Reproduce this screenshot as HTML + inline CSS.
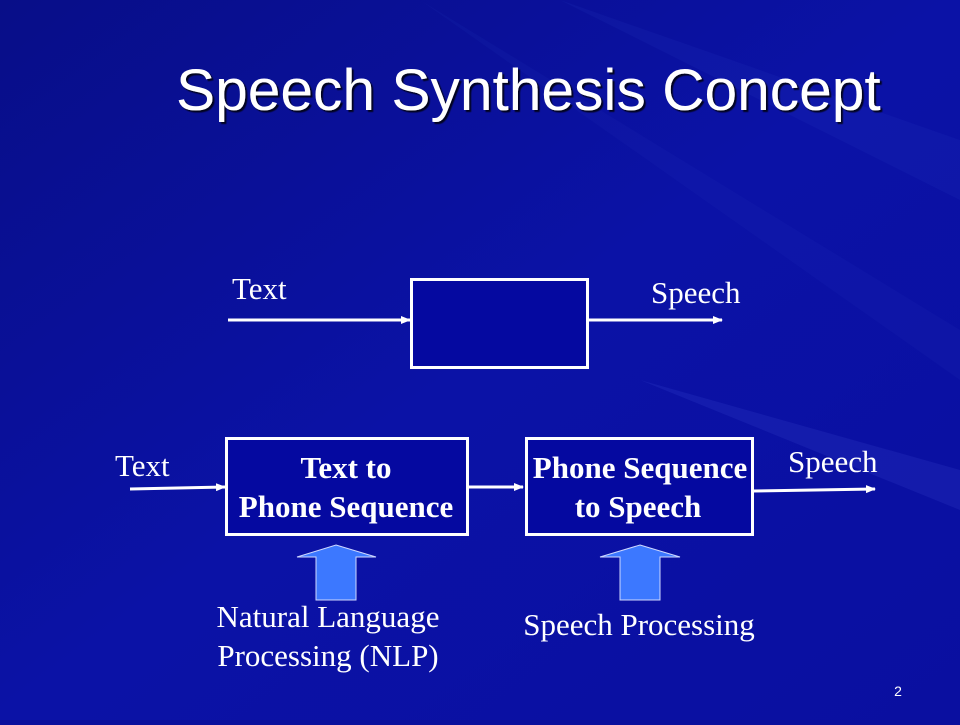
<!DOCTYPE html>
<html><head><style>
html,body{margin:0;padding:0}
body{width:960px;height:720px;overflow:hidden;background:#0a0f9c}
</style></head><body>
<svg width="960" height="720" xmlns="http://www.w3.org/2000/svg">
<defs>
<linearGradient id="bg" x1="0" y1="0" x2="1" y2="1">
<stop offset="0" stop-color="#080e88"/>
<stop offset="0.5" stop-color="#0b12a6"/>
<stop offset="1" stop-color="#0a0fa0"/>
</linearGradient>
<marker id="ah" markerWidth="10" markerHeight="8" refX="9" refY="4" orient="auto" markerUnits="userSpaceOnUse">
<path d="M0,0 L10,4 L0,8 z" fill="#fff"/>
</marker>
<filter id="sh"><feDropShadow dx="2" dy="2" stdDeviation="0.5" flood-color="#000" flood-opacity="0.8"/></filter>
</defs>
<rect width="960" height="720" fill="url(#bg)"/>
<path d="M560,0 L960,140 L960,200 Z" fill="#2a3ac0" opacity="0.15"/>
<path d="M420,0 L960,330 L960,380 Z" fill="#2a3ac0" opacity="0.12"/>
<path d="M640,380 L960,470 L960,510 Z" fill="#3a4ad0" opacity="0.2"/>
<text x="176" y="110" font-family="Liberation Sans, sans-serif" font-size="58.7" fill="#fff" filter="url(#sh)">Speech Synthesis Concept</text>
<g font-family="Liberation Serif, serif" font-size="31" fill="#fff">
<text x="232" y="299">Text</text>
<text x="651" y="303">Speech</text>
<text x="115" y="476">Text</text>
<text x="788" y="472">Speech</text>
<text x="328" y="627" text-anchor="middle">Natural Language</text>
<text x="328" y="666" text-anchor="middle">Processing (NLP)</text>
<text x="639" y="635" text-anchor="middle">Speech Processing</text>
</g>
<g stroke="#fff" stroke-width="3" fill="none">
<rect x="411.5" y="279.5" width="176" height="88" fill="#0509a0"/>
<rect x="226.5" y="438.5" width="241" height="96" fill="#0509a0"/>
<rect x="526.5" y="438.5" width="226" height="96" fill="#0509a0"/>
<line x1="228" y1="320" x2="410" y2="320" marker-end="url(#ah)"/>
<line x1="588" y1="320" x2="722" y2="320" marker-end="url(#ah)"/>
<line x1="130" y1="489" x2="225" y2="487" marker-end="url(#ah)"/>
<line x1="468" y1="487" x2="523" y2="487" marker-end="url(#ah)"/>
<line x1="753" y1="491" x2="875" y2="489" marker-end="url(#ah)"/>
</g>
<g font-family="Liberation Serif, serif" font-size="31" font-weight="bold" fill="#fff" text-anchor="middle">
<text x="346" y="478">Text to</text>
<text x="346" y="517">Phone Sequence</text>
<text x="640" y="478">Phone Sequence</text>
<text x="638" y="517">to Speech</text>
</g>
<g fill="#3c78ff" stroke="#cfd8ff" stroke-width="1">
<path d="M336,545 L376,557 L356,557 L356,600 L316,600 L316,557 L297,557 Z"/>
<path d="M640,545 L680,557 L660,557 L660,600 L620,600 L620,557 L600,557 Z"/>
</g>
<text x="898" y="696" font-family="Liberation Sans, sans-serif" font-size="14" fill="#fff" text-anchor="middle">2</text>
</svg>
</body></html>
